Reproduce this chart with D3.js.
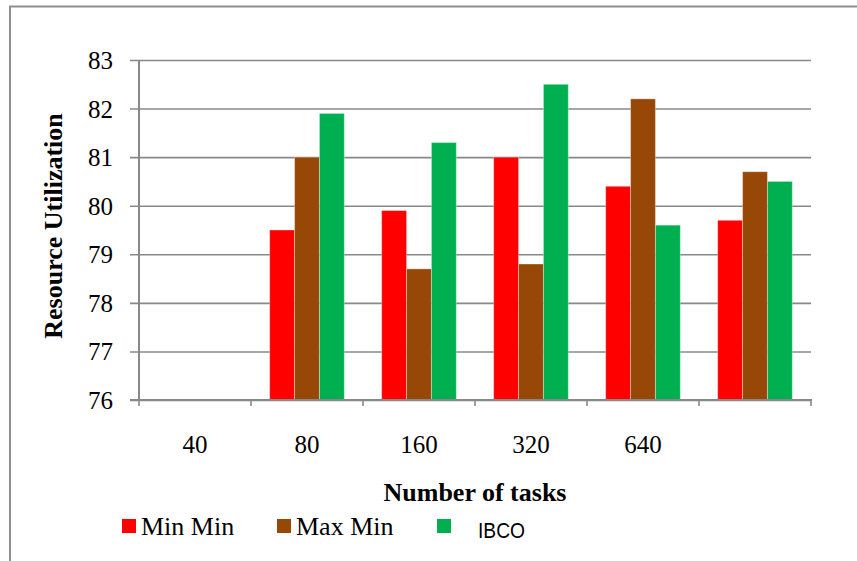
<!DOCTYPE html>
<html>
<head>
<meta charset="utf-8">
<script src="https://cdn.jsdelivr.net/npm/d3@7"></script>
<style>
  html, body { margin: 0; padding: 0; background: #fff; }
  svg { display: block; }
</style>
</head>
<body>
<svg id="chart" width="857" height="561"></svg>
<script>
// Category slots along the x axis (the last slot carries no label)
const categories = ["40", "80", "160", "320", "640", ""];
const seriesNames = ["Min Min", "Max Min", "IBCO"];
const minMin = [null, 79.5, 79.9, 81.0, 80.4, 79.7];
const maxMin = [null, 81.0, 78.7, 78.8, 82.2, 80.7];
const ibco   = [null, 81.9, 81.3, 82.5, 79.6, 80.5];
const yTicks = [76, 77, 78, 79, 80, 81, 82, 83];
const colors = ["#ff0000", "#974806", "#00b050"];

(function () {
  const seriesValues = [minMin, maxMin, ibco];
  const rows = categories.map((c, i) => ({
    key: i,
    label: c,
    values: seriesNames.map((s, j) => ({ series: s, value: seriesValues[j][i], color: colors[j] }))
  }));

  const svg = d3.select("#chart");
  const plotLeft = 139, plotRight = 811, plotTop = 60, plotBottom = 400;
  const serif = "'Liberation Serif', 'Times New Roman', serif";
  const gridColor = "#888888";

  // Outer frame (top and left edges)
  svg.append("path")
    .attr("d", "M10,561 L10,6.5 L857,6.5")
    .attr("fill", "none")
    .attr("stroke", "#8f8f8f")
    .attr("stroke-width", 2);

  const x = d3.scaleBand().domain(rows.map(r => r.key)).range([plotLeft, plotRight]).padding(0);
  const xs = d3.scaleBand().domain(seriesNames).range([0, x.bandwidth()]).paddingInner(0).paddingOuter(0.75);
  const y = d3.scaleLinear().domain([76, 83]).range([plotBottom, plotTop]);

  // Horizontal gridlines with short ticks left of the axis
  const yAxis = d3.axisLeft(y).tickValues(yTicks).tickSize(-(plotRight - plotLeft)).tickPadding(26).tickFormat(d3.format("d"));
  const gy = svg.append("g").attr("transform", `translate(${plotLeft},0)`).call(yAxis);
  gy.select(".domain").remove();
  gy.selectAll(".tick line")
    .attr("x1", -9)
    .attr("stroke", gridColor)
    .attr("stroke-width", 1.6);
  gy.selectAll(".tick text")
    .attr("font-family", serif)
    .attr("font-size", 25)
    .attr("fill", "#000")
    .attr("dy", "0.34em");

  // Bars
  const groups = svg.append("g").selectAll("g")
    .data(rows).join("g")
    .attr("transform", d => `translate(${x(d.key)},0)`);
  groups.selectAll("rect")
    .data(d => d.values.filter(v => v.value != null))
    .join("rect")
    .attr("x", d => xs(d.series))
    .attr("width", xs.bandwidth())
    .attr("y", d => y(d.value))
    .attr("height", d => y(76) - y(d.value))
    .attr("fill", d => d.color)
    .attr("stroke", "#ffffff")
    .attr("stroke-opacity", 0.35)
    .attr("stroke-width", 1);

  // Y axis line
  svg.append("line")
    .attr("x1", plotLeft).attr("x2", plotLeft)
    .attr("y1", plotTop).attr("y2", plotBottom)
    .attr("stroke", gridColor).attr("stroke-width", 2);

  // X axis with ticks at slot boundaries
  const boundaries = d3.range(categories.length + 1).map(i => plotLeft + i * x.step());
  const gx = svg.append("g");
  gx.append("line")
    .attr("x1", plotLeft - 9).attr("x2", plotRight + 1)
    .attr("y1", plotBottom).attr("y2", plotBottom)
    .attr("stroke", gridColor).attr("stroke-width", 2);
  gx.selectAll("line.tk").data(boundaries).join("line")
    .attr("class", "tk")
    .attr("x1", d => d).attr("x2", d => d)
    .attr("y1", plotBottom).attr("y2", plotBottom + 6)
    .attr("stroke", gridColor).attr("stroke-width", 1.6);
  gx.selectAll("text").data(rows).join("text")
    .attr("x", d => x(d.key) + x.bandwidth() / 2)
    .attr("y", 453)
    .attr("text-anchor", "middle")
    .attr("font-family", serif)
    .attr("font-size", 25)
    .text(d => d.label);

  // Axis titles
  svg.append("text")
    .attr("x", 475).attr("y", 501)
    .attr("text-anchor", "middle")
    .attr("font-family", serif)
    .attr("font-weight", "bold")
    .attr("font-size", 26)
    .text("Number of tasks");

  svg.append("text")
    .attr("transform", "translate(62,226) rotate(-90)")
    .attr("text-anchor", "middle")
    .attr("font-family", serif)
    .attr("font-weight", "bold")
    .attr("font-size", 26)
    .text("Resource Utilization");

  // Legend
  const legendItems = [
    { name: seriesNames[0], color: colors[0], sx: 122, tx: 141, font: serif, size: 26, baseline: 535, len: null },
    { name: seriesNames[1], color: colors[1], sx: 277, tx: 296, font: serif, size: 26, baseline: 535, len: null },
    { name: seriesNames[2], color: colors[2], sx: 437, tx: 478, font: "'Liberation Sans Narrow', 'Arial Narrow', 'Liberation Sans', sans-serif", size: 22, baseline: 538, len: 47 }
  ];
  const lg = svg.append("g").selectAll("g").data(legendItems).join("g");
  lg.append("rect")
    .attr("x", d => d.sx).attr("y", 519)
    .attr("width", 14).attr("height", 14)
    .attr("fill", d => d.color);
  lg.append("text")
    .attr("x", d => d.tx).attr("y", d => d.baseline)
    .attr("font-family", d => d.font)
    .attr("font-size", d => d.size)
    .each(function (d) {
      if (d.len) d3.select(this).attr("textLength", d.len).attr("lengthAdjust", "spacingAndGlyphs");
    })
    .text(d => d.name);
})();
</script>
</body>
</html>
